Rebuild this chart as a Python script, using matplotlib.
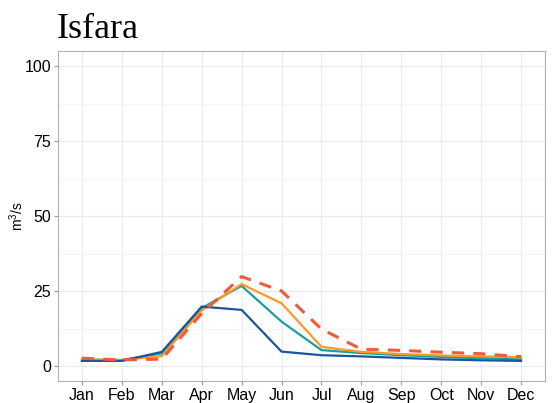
import matplotlib.pyplot as plt
from matplotlib.ticker import MultipleLocator

plt.rcParams['font.family'] = ['Liberation Sans', 'DejaVu Sans']
plt.rcParams['mathtext.fontset'] = 'custom'
plt.rcParams['mathtext.rm'] = 'Liberation Sans'

months = ["Jan", "Feb", "Mar", "Apr", "May", "Jun", "Jul", "Aug", "Sep", "Oct", "Nov", "Dec"]

# discharge, m3/s
obs_dashed = [2.6, 2.0, 2.3, 17.5, 29.8, 25.0, 12.3, 5.6, 5.2, 4.6, 4.1, 3.1]
orange = [2.2, 2.0, 3.3, 18.5, 27.3, 20.9, 6.4, 4.7, 4.0, 3.5, 3.2, 2.9]
teal = [2.1, 2.0, 4.2, 19.3, 26.7, 14.8, 5.3, 4.3, 3.6, 3.0, 2.6, 2.2]
blue = [1.7, 1.7, 4.7, 19.8, 18.7, 4.8, 3.6, 3.2, 2.7, 2.2, 1.9, 1.7]

x = list(range(1, 13))

fig = plt.figure(figsize=(5.53, 4.03), dpi=100)
ax = fig.add_axes([58 / 553, 1 - 381 / 403, 487 / 553, 330 / 403])

ax.plot(x, teal, color="#1b9e9b", lw=1.6)
ax.plot(x, orange, color="#fd9a25", lw=1.6)
ax.plot(x, blue, color="#19569f", lw=1.6)
ax.plot(x, obs_dashed, color="#f25a3c", lw=2.2, dashes=(4, 3))

ax.set_xlim(0.4, 12.6)
ax.set_ylim(-5, 105)
ax.set_xticks(x)
ax.set_xticklabels(months)
ax.set_yticks([0, 25, 50, 75, 100])
ax.yaxis.set_minor_locator(MultipleLocator(12.5))
ax.grid(True, which="major", color="#ebebeb", lw=0.8)
ax.grid(True, which="minor", axis="y", color="#f4f4f4", lw=0.6)
ax.set_axisbelow(True)
ax.tick_params(which="major", labelsize=11.5, color="#999999", length=3, pad=2, labelcolor="black")
ax.tick_params(which="minor", length=0)
for s in ax.spines.values():
    s.set_color("#b0b0b0")
    s.set_linewidth(0.8)

ax.set_ylabel(r"m$^{3}$/s", fontsize=10)
ax.yaxis.set_label_coords(-32 / 487, 0.5)
fig.text(57 / 553, 1 - 38 / 403, "Isfara", family="Liberation Serif", fontsize=26, ha="left", va="baseline")

fig.savefig("out.png", dpi=100)
